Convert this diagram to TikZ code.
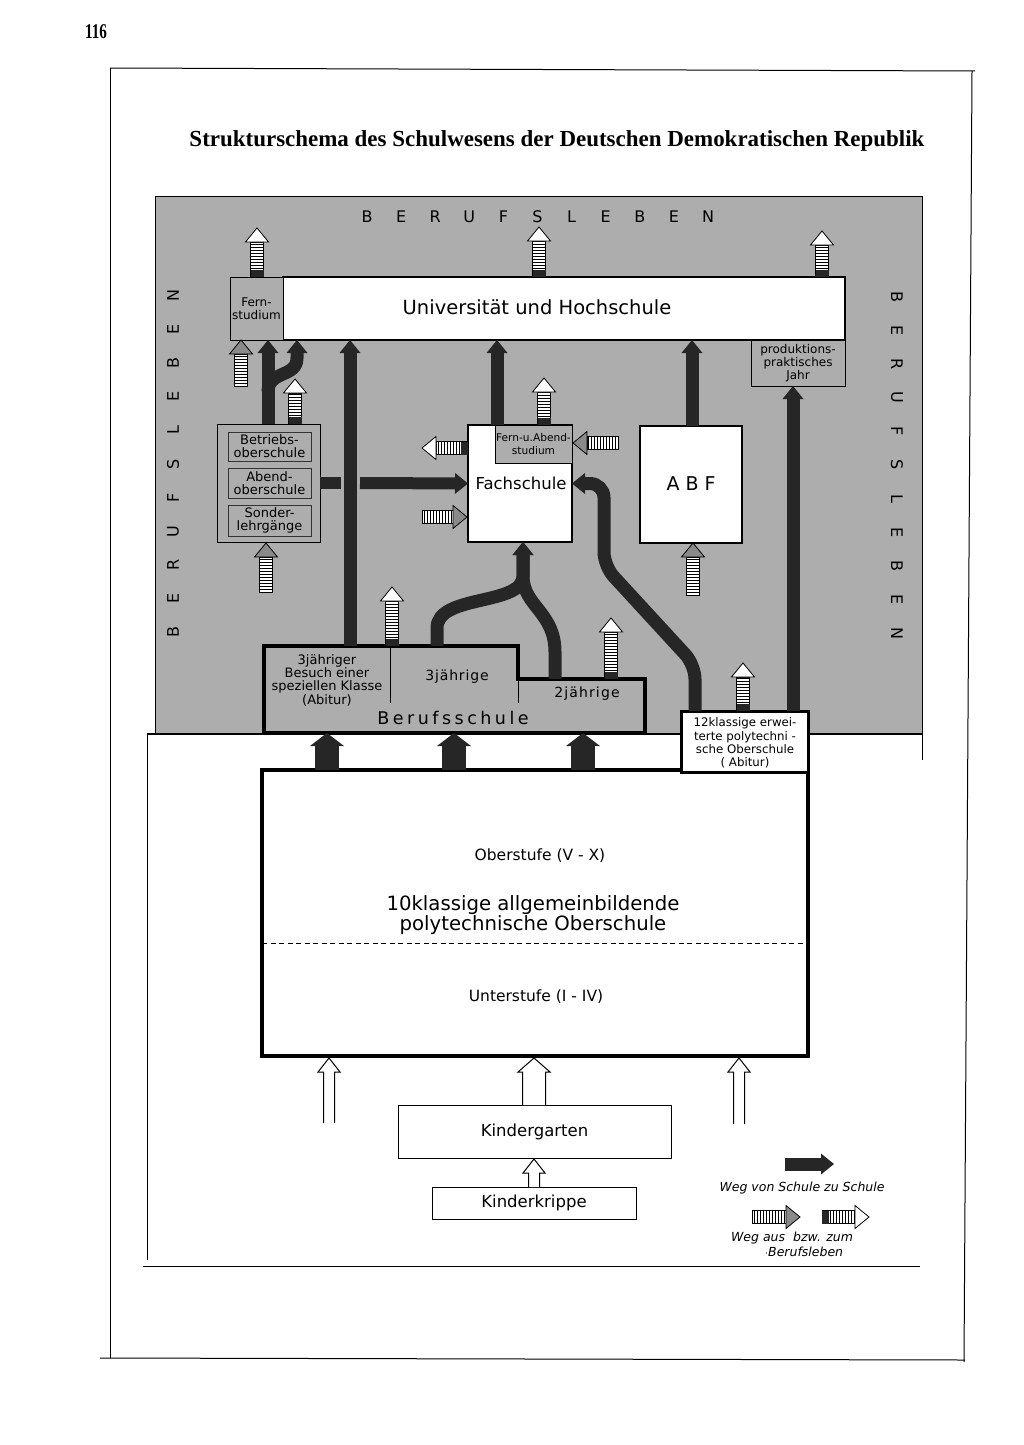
\documentclass[tikz,border=0pt]{standalone}
\usepackage{fontspec}
\usepackage{graphicx}
\setmainfont{Liberation Serif}
\newfontfamily\dv{DejaVu Sans}
\usetikzlibrary{arrows.meta,fit,calc}
\definecolor{bg}{HTML}{ADADAD}
\definecolor{dk}{HTML}{262626}
\definecolor{hd}{HTML}{8A8A8A}
\newcommand\fs[1]{\fontsize{#1}{#1}\selectfont}
\newcommand\fsb[2]{\fontsize{#1}{#2}\selectfont}
% striped Berufsleben arrow: x, y, angle, length, o(ut)/i(n)
\newcommand\sarr[5]{%
\begin{scope}[shift={(#1,#2)},rotate=#3]
\pgfmathsetmacro\sL{#4-14}
\fill[white] (0,-6.5) rectangle (\sL,6.5);
\foreach \k in {2.5,5.5,...,\sL} \draw[line width=0.55pt] (\k,-6.5) -- (\k,6.5);
\draw[line width=0.8pt] (0,-6.5) rectangle (\sL,6.5);
\if o#5 \fill[dk] (0,-6.5) rectangle (7,6.5);\fi
\if i#5 \def\hc{hd}\else\def\hc{white}\fi
\draw[line width=0.8pt, fill=\hc, line join=miter] (\sL,-11.5) -- (#4,0) -- (\sL,11.5) -- cycle;
\end{scope}}
% hollow double-line arrow: x, tip y, base y, half shaft, half head
\newcommand\hol[5]{%
\draw[line width=1pt, fill=white, line join=miter] (#1-#4,#3) -- (#1-#4,#2+14) -- (#1-#5,#2+14) -- (#1,#2) -- (#1+#5,#2+14) -- (#1+#4,#2+14) -- (#1+#4,#3);}
\begin{document}
\begin{tikzpicture}[x=1pt,y=-1pt,
  box/.style={draw=black, line width=1.1pt, fill=white, inner sep=0pt, outer sep=0pt},
  gbox/.style={draw=black, line width=0.9pt, fill=bg, inner sep=0pt, outer sep=0pt},
  ibox/.style={draw=black!80, line width=0.7pt, fill=bg, inner sep=0pt, outer sep=0pt},
  tbox/.style={draw=black, line width=3.2pt, fill=white, inner sep=0pt, outer sep=0pt},
  lbl/.style={inner sep=0pt, align=center},
  lett/.style={inner sep=0pt, font=\dv\fs{16}},
  blk/.style={draw=dk, line width=13pt, -{Triangle[width=21pt,length=13pt,line width=0pt]}},
  house/.style={draw=dk, line width=24pt, -{Triangle[width=34pt,length=13pt,line width=0pt]}},
]
\useasboundingbox (0,0) rectangle (1024,1445);
\fill[white] (0,0) rectangle (1024,1445);

% page number and title
\node[inner sep=0pt, font=\bfseries\fs{21}] (pg) at (96,32) {\scalebox{0.72}[1]{116}};
\node[inner sep=0pt] (title) at (557,141) {\resizebox{735pt}{!}{\bfseries Strukturschema des Schulwesens der Deutschen Demokratischen Republik}};

% page frames
\draw[line width=1pt] (110,68) -- (975,71);
\draw[line width=1pt] (110,68) -- (110,1358);
\draw[line width=1pt] (100,1358) -- (965,1360);
\draw[line width=1pt] (972,71) -- (964,1362);

% grey Berufsleben area
\fill[bg] (155,196) rectangle (922,734);
\draw[line width=0.9pt] (155,734) -- (155,196) -- (922,196) -- (922,760);
\draw[line width=1.2pt] (147,734) -- (922,734);
\draw[line width=1pt] (147,734) -- (147,1260);
\draw[line width=1pt] (143,1266) -- (920,1266);

\foreach \c [count=\i from 0] in {B,E,R,U,F,S,L,E,B,E,N} {
  \node[lett] (top\i) at (367+34.1*\i,217) {\c};
  \node[lett,rotate=90] (lft\i) at (173,632-33.6*\i) {\c};
  \node[lett,rotate=-90] (rgt\i) at (897,297+33.6*\i) {\c};
}

% boxes
\node[box, fit={(283,277) (845,340)}] (uni) {};
\node[lbl, font=\dv\fs{19.5}] (unit) at (537,307) {Universität und Hochschule};
\node[gbox, fit={(230,277) (283,340)}] (fern) {};
\node[lbl, font=\dv\fsb{12}{12.5}] (fernt) at (fern.center) {Fern-\\studium};
\node[gbox, fit={(751,340) (845,386)}] (prod) {};
\node[lbl, font=\dv\fsb{12}{13}] (prodt) at (798,363) {produktions-\\praktisches\\Jahr};

\node[gbox, fit={(217,424) (320,542)}] (abo) {};
\node[ibox, fit={(228,432) (311,461)}] (betr) {};
\node[lbl, font=\dv\fsb{13}{13}] at (betr.center) {Betriebs-\\oberschule};
\node[ibox, fit={(228,468) (311,498)}] (abend) {};
\node[lbl, font=\dv\fsb{13}{13}] at (abend.center) {Abend-\\oberschule};
\node[ibox, fit={(228,505) (311,536)}] (sond) {};
\node[lbl, font=\dv\fsb{13}{13}] at (sond.center) {Sonder-\\lehrgänge};

\node[box, fit={(468,425) (572,542)}] (fach) {};
\node[gbox, fit={(495,425) (572,463)}] (fabs) {};
\node[lbl, font=\dv\fsb{10.6}{13}] at (fabs.center) {Fern-u.Abend-\\studium};
\node[lbl, font=\dv\fs{16.5}] (facht) at (521,483) {Fachschule};
\node[box, fit={(640,426) (742,543)}] (abf) {};
\node[lbl, font=\dv\fs{19}] (abft) at (691,484) {A\kern6pt B\kern6pt F};

% Berufsschule
\coordinate (bsTop) at (264,646);
\coordinate (bsBot) at (264,733);
\draw[line width=3.5pt, fill=bg, line join=miter] (264,646) -- (518,646) -- (518,679) -- (645,679) -- (645,733) -- (264,733) -- cycle;
\draw[line width=0.8pt] (390,646) -- (390,703);
\draw[line width=0.8pt] (518,679) -- (518,703);
\node[lbl, font=\dv\fsb{13}{13.3}] (bs1) at (327,680) {3jähriger\\Besuch einer\\speziellen Klasse\\(Abitur)};
\node[lbl, font=\dv\fs{14}\addfontfeature{LetterSpace=6}] (bs2) at (457,677) {3jährige};
\node[lbl, font=\dv\fs{14}\addfontfeature{LetterSpace=8}] (bs3) at (587,694) {2jährige};
\node[lbl, font=\dv\fs{17.5}\addfontfeature{LetterSpace=20}] (bs) at (453,718) {Berufsschule};

% 10klassige and 12klassige
\node[tbox, fit={(262,770) (808,1056)}] (zkl) {};
\draw[line width=1pt, dash pattern=on 5pt off 3.5pt] (262,943) -- (808,943);
\node[lbl, font=\dv\fs{15.5}] (ober) at (540,856) {Oberstufe (V - X)};
\node[lbl, font=\dv\fsb{19.7}{20}] (zklt) at (533,915) {10klassige allgemeinbildende\\polytechnische Oberschule};
\node[lbl, font=\dv\fs{15.5}] (unter) at (536,997) {Unterstufe (I - IV)};
\node[tbox, line width=3pt, fit={(681,711) (808,772)}] (ekl) {};
\node[lbl, font=\dv\fsb{11.8}{13.3}] (eklt) at (745,743) {12klassige erwei-\\terte polytechni -\\sche Oberschule\\( Abitur)};

% Kindergarten, Kinderkrippe
\node[box, line width=0.9pt, fit={(398,1105) (671,1158)}] (kg) {};
\node[lbl, font=\dv\fs{16.5}] (kgt) at (kg.center) {Kindergarten};
\node[box, line width=0.9pt, fit={(432,1187) (636,1219)}] (kk) {};
\node[lbl, font=\dv\fs{16.5}] (kkt) at (kk.center) {Kinderkrippe};
\hol{329}{1058}{1123}{5.5}{11}
\hol{534}{1058}{1105}{11.5}{16}
\hol{739}{1058}{1124}{5.5}{11}
\hol{534}{1159}{1187}{5.5}{11}

% black arrows (Weg von Schule zu Schule)
\coordinate (xA) at (268,0);
\coordinate (xB) at (297,0);
\coordinate (xC) at (350,0);
\coordinate (xD) at (497,0);
\coordinate (xE) at (692,0);
\coordinate (xF) at (793,0);
\coordinate (xG) at (523,0);
\coordinate (xH) at (695,0);
\draw[blk] (abo.north -| xA) -- (fern.south -| xA);
\coordinate (br0) at (268,392);
\draw[blk] (br0) .. controls (268,370) and (297,378) .. (297,358) -- (uni.south -| xB);
\draw[blk] (bsTop -| xC) -- (uni.south -| xC);
\draw[blk] (fach.north -| xD) -- (uni.south -| xD);
\draw[blk] (abf.north -| xE) -- (uni.south -| xE);
\draw[blk] (ekl.north -| xF) -- (prod.south -| xF);
\coordinate (y1) at (437,646);
\coordinate (y2) at (555,679);
\draw[blk] (y1) -- (437,628) .. controls (437,594) and (523,606) .. (523,576) -- (fach.south -| xG);
\draw[blk] (y2) -- (555,652) .. controls (555,612) and (523,606) .. (523,576) -- (fach.south -| xG);
\draw[blk, rounded corners=14pt] (ekl.north -| xH) -- (695,665) -- (604,566) -- (604,483.5) -- (fach.east);
\coordinate (h1) at (341,483);
\coordinate (h2) at (360,483);
\draw[dk, line width=12pt] (abo.east) -- (h1);
\draw[blk, line width=12pt] (h2) -- (fach.west);
\foreach \xx in {327,454,583} {
  \coordinate (hx) at (\xx,0);
  \draw[house] (zkl.north -| hx) -- (bsBot -| hx);
}

% striped arrows (Weg aus bzw. zum Berufsleben)
\sarr{257}{277}{90}{49}{o}
\sarr{539}{277}{90}{50}{o}
\sarr{822}{277}{90}{46}{o}
\sarr{295}{424}{90}{45}{o}
\sarr{544}{425}{90}{47}{o}
\sarr{392}{646}{90}{59}{o}
\sarr{611}{679}{90}{61}{o}
\sarr{743}{711}{90}{48}{o}
\sarr{468}{448}{180}{46}{o}
\sarr{241}{386}{90}{46}{i}
\sarr{266}{592}{90}{49}{i}
\sarr{693}{595}{90}{52}{i}
\sarr{422}{517}{0}{45}{i}
\sarr{618}{443}{180}{45}{i}

% legend
\coordinate (lgA) at (785,1164);
\coordinate (lgB) at (834,1164);
\draw[blk] (lgA) -- (lgB);
\node[lbl, font=\dv\itshape\fs{12.5}] (lg1) at (802,1188) {Weg von Schule zu Schule};
\sarr{752}{1217}{0}{48}{i}
\sarr{822}{1217}{0}{47}{o}
\node[lbl, font=\dv\itshape\fs{12.5}] (lg2) at (792,1238) {Weg aus\ \ bzw. zum};
\node[lbl, font=\dv\itshape\fs{12.5}] (lg3) at (804,1252) {$\cdot$Berufsleben};
\end{tikzpicture}
\end{document}
